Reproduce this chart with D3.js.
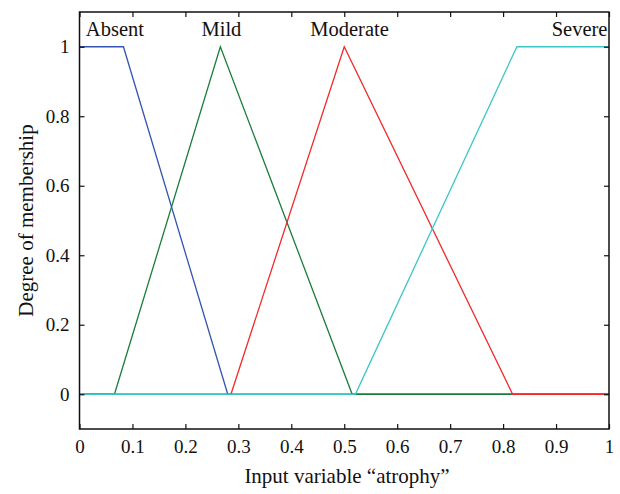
<!DOCTYPE html>
<html>
<head>
<meta charset="utf-8">
<script src="https://cdn.jsdelivr.net/npm/d3@7"></script>
<style>
  body { margin: 0; background: #fff; }
  text { font-family: "Liberation Serif", "DejaVu Serif", serif; fill: #111; }
</style>
</head>
<body>
<div class="chart"></div>
<script>
// membership functions, breakpoints
var setNames = ["Absent", "Mild", "Moderate", "Severe"];
var setColors = ["#3354b0", "#1b7d3c", "#f22a2a", "#3cc6c6"];
var absentX = [0, 0.083, 0.28, 1];
var absentY = [1, 1, 0, 0];
var mildX = [0, 0.066, 0.266, 0.515, 1];
var mildY = [0, 0, 1, 0, 0];
var moderateX = [0, 0.286, 0.5, 0.818, 1];
var moderateY = [0, 0, 1, 0, 0];
var severeX = [0, 0.521, 0.826, 1];
var severeY = [0, 0, 1, 1];
var xTicks = [0, 0.1, 0.2, 0.3, 0.4, 0.5, 0.6, 0.7, 0.8, 0.9, 1];
var yTicks = [0, 0.2, 0.4, 0.6, 0.8, 1];

var series = [
  {name: setNames[0], xs: absentX, ys: absentY},
  {name: setNames[1], xs: mildX, ys: mildY},
  {name: setNames[2], xs: moderateX, ys: moderateY},
  {name: setNames[3], xs: severeX, ys: severeY}
];

var w = 620, h = 494;
var m = {left: 79.5, right: 11, top: 12, bottom: 65};
var pw = w - m.left - m.right, ph = h - m.top - m.bottom;

var svg = d3.select(".chart").append("svg")
            .attr("width", w)
            .attr("height", h);

var x = d3.scaleLinear().domain([0, 1]).range([m.left, m.left + pw]);
var y = d3.scaleLinear().domain([-0.1, 1.1]).range([m.top + ph, m.top]);

var line = d3.line()
             .x(function(d){ return x(d[0]); })
             .y(function(d){ return y(d[1]); });

// cyan drawn last so it sits on top along the zero line
series.forEach(function(s, i) {
  svg.append("path")
     .attr("d", line(d3.zip(s.xs, s.ys)))
     .attr("fill", "none")
     .attr("stroke", setColors[i])
     .attr("stroke-width", 1.3);
});

var fmt = function(d){ return d === 0 || d === 1 ? d : d3.format(".1f")(d); };

// axes, ticks point inward
var tickLen = 5;
var axBottom = svg.append("g")
  .attr("transform", "translate(0," + (m.top + ph) + ")")
  .call(d3.axisBottom(x).tickValues(xTicks).tickSize(-tickLen).tickPadding(11).tickFormat(fmt));
var axLeft = svg.append("g")
  .attr("transform", "translate(" + m.left + ",0)")
  .call(d3.axisLeft(y).tickValues(yTicks).tickSize(-tickLen).tickPadding(10).tickFormat(fmt));
var axTop = svg.append("g")
  .attr("transform", "translate(0," + m.top + ")")
  .call(d3.axisTop(x).tickValues(xTicks).tickSize(-tickLen).tickFormat(""));
var axRight = svg.append("g")
  .attr("transform", "translate(" + (m.left + pw) + ",0)")
  .call(d3.axisRight(y).tickValues(yTicks).tickSize(-tickLen).tickFormat(""));

[axBottom, axLeft, axTop, axRight].forEach(function(g) {
  g.select(".domain").remove();
  g.selectAll("line").attr("stroke", "#111").attr("stroke-width", 1.2);
  g.selectAll("text").attr("font-size", 19).attr("fill", "#111")
   .attr("font-family", "'Liberation Serif', serif");
});

svg.append("rect")
   .attr("x", m.left).attr("y", m.top)
   .attr("width", pw).attr("height", ph)
   .attr("fill", "none").attr("stroke", "#111").attr("stroke-width", 1.5);

// set labels
var labelPos = [
  {x: 0.012, anchor: "start"},
  {x: 0.268, anchor: "middle"},
  {x: 0.51, anchor: "middle"},
  {x: 0.997, anchor: "end"}
];
svg.selectAll(".setlabel")
   .data(setNames)
   .enter().append("text")
   .attr("class", "setlabel")
   .attr("x", function(d, i){ return x(labelPos[i].x); })
   .attr("y", 36)
   .attr("text-anchor", function(d, i){ return labelPos[i].anchor; })
   .attr("font-size", 20.5)
   .text(function(d){ return d; });

svg.append("text")
   .attr("x", 347)
   .attr("y", 483)
   .attr("text-anchor", "middle")
   .attr("font-size", 21)
   .text("Input variable \u201Catrophy\u201D");

svg.append("text")
   .attr("transform", "translate(33," + (m.top + ph / 2) + ") rotate(-90)")
   .attr("text-anchor", "middle")
   .attr("font-size", 21)
   .text("Degree of membership");
</script>
</body>
</html>
